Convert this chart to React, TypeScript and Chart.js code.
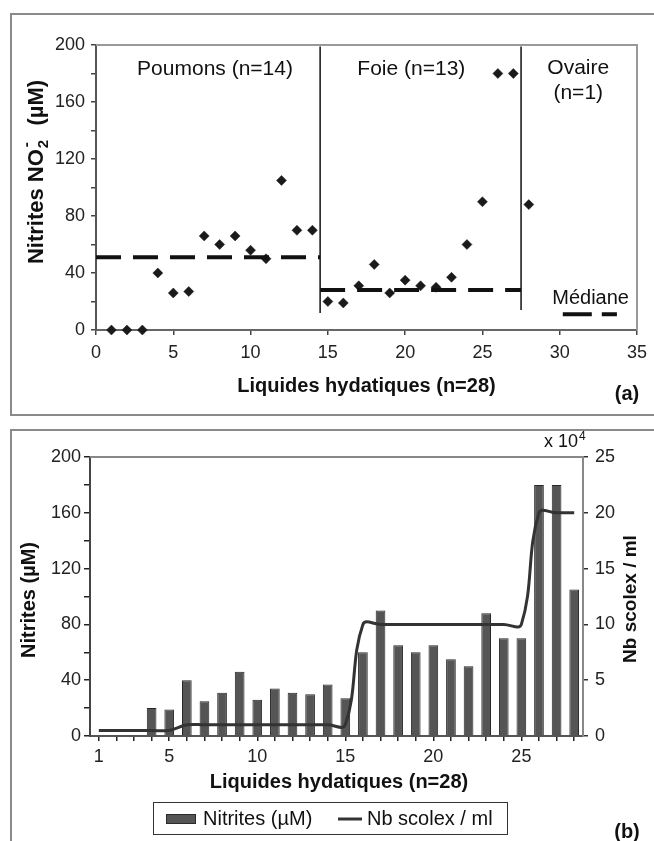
import React, { useEffect, useRef } from 'react';
import { Chart, registerables } from 'chart.js';

Chart.register(...registerables);

const FONT = "'Liberation Sans', Arial, Helvetica, sans-serif";

// ---------- Panel (a) data ----------
const specimenA = [1, 2, 3, 4, 5, 6, 7, 8, 9, 10, 11, 12, 13, 14, 15, 16, 17, 18, 19, 20, 21, 22, 23, 24, 25, 26, 27, 28];
const nitritesA = [0, 0, 0, 40, 26, 27, 66, 60, 66, 56, 50, 105, 70, 70, 20, 19, 31, 46, 26, 35, 31, 30, 37, 60, 90, 180, 180, 88];
const groupBounds = [0, 14.5, 27.5];
const medianPoumons = 51;
const medianFoie = 28;
const separatorLow = [12, 14];
const separatorHigh = 199;
const medianLegendX = [30.2, 33.7];
const medianLegendY = 11;

// ---------- Panel (b) data ----------
const specimenB = ['1', '2', '3', '4', '5', '6', '7', '8', '9', '10', '11', '12', '13', '14', '15', '16', '17', '18', '19', '20', '21', '22', '23', '24', '25', '26', '27', '28'];
const nitritesB = [0, 0, 0, 20, 19, 40, 25, 31, 46, 26, 34, 31, 30, 37, 27, 60, 90, 65, 60, 65, 55, 50, 88, 70, 70, 180, 180, 105];
const scolexB = [0.5, 0.5, 0.5, 0.5, 0.5, 1, 1, 1, 1, 1, 1, 1, 1, 1, 1, 10, 10, 10, 10, 10, 10, 10, 10, 10, 10, 20, 20, 20];
const xLabelsShownB = ['1', '5', '10', '15', '20', '25'];

function drawText(
  ctx: CanvasRenderingContext2D,
  s: string,
  x: number,
  y: number,
  font: string,
  align: CanvasTextAlign = 'center',
  baseline: CanvasTextBaseline = 'middle',
  rot = 0,
  color = '#111'
) {
  ctx.save();
  ctx.translate(x, y);
  if (rot) ctx.rotate(rot);
  ctx.font = font;
  ctx.fillStyle = color;
  ctx.textAlign = align;
  ctx.textBaseline = baseline;
  ctx.fillText(s, 0, 0);
  ctx.restore();
}

const annotA = {
  id: 'annotA',
  afterDraw(chart: any) {
    const ctx: CanvasRenderingContext2D = chart.ctx;
    const { left, right, top, bottom } = chart.chartArea;
    const xs = chart.scales.x;
    const ys = chart.scales.y;
    ctx.save();
    ctx.strokeStyle = '#999';
    ctx.lineWidth = 2;
    ctx.beginPath();
    ctx.moveTo(left, top);
    ctx.lineTo(right, top);
    ctx.lineTo(right, bottom);
    ctx.stroke();
    ctx.restore();

    const reg = `21px ${FONT}`;
    drawText(ctx, 'Poumons (n=14)', xs.getPixelForValue(7.7), ys.getPixelForValue(183), reg);
    drawText(ctx, 'Foie (n=13)', xs.getPixelForValue(20.4), ys.getPixelForValue(183), reg);
    drawText(ctx, 'Ovaire', xs.getPixelForValue(31.2), ys.getPixelForValue(184), reg);
    drawText(ctx, '(n=1)', xs.getPixelForValue(31.2), ys.getPixelForValue(166), reg);
    drawText(ctx, 'Médiane', xs.getPixelForValue(32), ys.getPixelForValue(22), `20px ${FONT}`);

    const bold = `bold 20px ${FONT}`;
    drawText(ctx, 'Liquides hydatiques (n=28)', (left + right) / 2, 386, bold);
    drawText(ctx, '(a)', 627, 394, bold);

    // Y title with subscript/superscript
    ctx.save();
    ctx.translate(35, 172);
    ctx.rotate(-Math.PI / 2);
    ctx.fillStyle = '#111';
    ctx.textBaseline = 'alphabetic';
    ctx.textAlign = 'left';
    const big = `bold 22px ${FONT}`;
    const small = `bold 15px ${FONT}`;
    ctx.font = big;
    const w1 = ctx.measureText('Nitrites NO').width;
    const w3 = ctx.measureText('  (µM)').width;
    ctx.font = small;
    const w2 = ctx.measureText('2').width + 3;
    let x = -(w1 + w2 + w3) / 2;
    const by = 8;
    ctx.font = big;
    ctx.fillText('Nitrites NO', x, by);
    x += w1;
    ctx.font = small;
    ctx.fillText('2', x + 1, by + 5);
    ctx.fillText('-', x + 2, by - 12);
    x += w2;
    ctx.font = big;
    ctx.fillText('  (µM)', x, by);
    ctx.restore();
  },
};

const annotB = {
  id: 'annotB',
  afterDraw(chart: any) {
    const ctx: CanvasRenderingContext2D = chart.ctx;
    const { left, right, top } = chart.chartArea;
    ctx.save();
    ctx.strokeStyle = '#888';
    ctx.lineWidth = 2;
    ctx.beginPath();
    ctx.moveTo(left, top);
    ctx.lineTo(right, top);
    ctx.stroke();
    ctx.restore();

    drawText(ctx, 'Nitrites (µM)', 29, 180, `bold 20px ${FONT}`, 'center', 'middle', -Math.PI / 2);
    drawText(ctx, 'Nb scolex / ml', 631, 179, `bold 19px ${FONT}`, 'center', 'middle', -Math.PI / 2);

    drawText(ctx, 'x 10', 578, 27, `18px ${FONT}`, 'right', 'alphabetic');
    drawText(ctx, '4', 579, 20, `12px ${FONT}`, 'left', 'alphabetic');

    drawText(ctx, 'Liquides hydatiques (n=28)', 339, 362, `bold 20px ${FONT}`);
    drawText(ctx, '(b)', 627, 412, `bold 20px ${FONT}`);

    // legend
    ctx.save();
    ctx.strokeStyle = '#333';
    ctx.lineWidth = 1;
    ctx.strokeRect(153.5, 382.5, 354, 32);
    ctx.fillStyle = '#555';
    ctx.fillRect(166, 394, 30, 10);
    ctx.strokeStyle = '#2a2a2a';
    ctx.strokeRect(166.5, 394.5, 29, 9);
    ctx.strokeStyle = '#333';
    ctx.lineWidth = 3;
    ctx.beginPath();
    ctx.moveTo(338, 399);
    ctx.lineTo(362, 399);
    ctx.stroke();
    ctx.restore();
    drawText(ctx, 'Nitrites (µM)', 203, 399, `20px ${FONT}`, 'left');
    drawText(ctx, 'Nb scolex / ml', 367, 399, `20px ${FONT}`, 'left');
  },
};

export default function App() {
  const refA = useRef<HTMLCanvasElement>(null);
  const refB = useRef<HTMLCanvasElement>(null);

  useEffect(() => {
    Chart.defaults.font.family = FONT;
    const tickFont = { family: FONT, size: 18 };

    const pointsA = specimenA.map((x, i) => ({ x, y: nitritesA[i] }));
    const lineDs = (data: any[], extra: any = {}) => ({
      data,
      showLine: true,
      pointRadius: 0,
      borderColor: '#111',
      borderWidth: 1.5,
      borderCapStyle: 'butt',
      clip: false,
      ...extra,
    });

    const chartA = new Chart(refA.current!, {
      type: 'scatter',
      data: {
        datasets: [
          lineDs(
            [
              { x: groupBounds[0], y: medianPoumons },
              { x: groupBounds[1], y: medianPoumons },
            ],
            { borderWidth: 4, borderDash: [25, 12] }
          ),
          lineDs(
            [
              { x: groupBounds[1], y: medianFoie },
              { x: groupBounds[2], y: medianFoie },
            ],
            { borderWidth: 4, borderDash: [25, 12] }
          ),
          lineDs([
            { x: groupBounds[1], y: separatorLow[0] },
            { x: groupBounds[1], y: separatorHigh },
          ]),
          lineDs([
            { x: groupBounds[2], y: separatorLow[1] },
            { x: groupBounds[2], y: separatorHigh },
          ]),
          lineDs(
            [
              { x: medianLegendX[0], y: medianLegendY },
              { x: medianLegendX[1], y: medianLegendY },
            ],
            { borderWidth: 4, borderDash: [29, 10] }
          ),
          {
            data: pointsA,
            pointStyle: 'rectRot',
            pointRadius: 5,
            backgroundColor: '#1a1a1a',
            borderColor: '#1a1a1a',
            borderWidth: 0.5,
            clip: false,
          } as any,
        ],
      },
      options: {
        responsive: false,
        animation: false,
        events: [],
        layout: { padding: { left: 0, right: 11, top: 45, bottom: 46 } },
        plugins: { legend: { display: false }, tooltip: { enabled: false } },
        scales: {
          x: {
            type: 'linear',
            min: 0,
            max: 35,
            ticks: { stepSize: 5, font: tickFont, color: '#222', padding: 7, maxRotation: 0 },
            grid: { drawOnChartArea: false, drawTicks: true, tickLength: 5, color: '#444', lineWidth: 1.5 },
            border: { display: true, color: '#666', width: 2 },
            afterFit: (s: any) => {
              s.height = 40;
            },
          },
          y: {
            min: 0,
            max: 200,
            ticks: {
              stepSize: 20,
              font: tickFont,
              color: '#222',
              padding: 6,
              callback: (v: any) => (v % 40 === 0 ? String(v) : ''),
            },
            grid: { drawOnChartArea: false, drawTicks: true, tickLength: 5, color: '#444', lineWidth: 1.5 },
            border: { display: true, color: '#555', width: 2 },
            afterFit: (s: any) => {
              s.width = 96;
            },
          },
        },
      } as any,
      plugins: [annotA],
    });

    const chartB = new Chart(refB.current!, {
      type: 'bar',
      data: {
        labels: specimenB,
        datasets: [
          {
            type: 'line',
            label: 'Nb scolex / ml',
            data: scolexB,
            yAxisID: 'y1',
            borderColor: '#333',
            borderWidth: 3,
            tension: 0.4,
            pointRadius: 0,
            order: 0,
          } as any,
          {
            type: 'bar',
            label: 'Nitrites (µM)',
            data: nitritesB,
            yAxisID: 'y',
            backgroundColor: '#555',
            borderColor: '#262626',
            borderWidth: 1,
            barPercentage: 0.55,
            categoryPercentage: 1,
            order: 1,
          } as any,
        ],
      },
      options: {
        responsive: false,
        animation: false,
        events: [],
        layout: { padding: { left: 0, right: 0, top: 37, bottom: 65 } },
        plugins: { legend: { display: false }, tooltip: { enabled: false } },
        scales: {
          x: {
            type: 'category',
            offset: true,
            ticks: {
              autoSkip: false,
              maxRotation: 0,
              font: tickFont,
              color: '#222',
              padding: 5,
              callback: (_v: any, i: number) => (xLabelsShownB.includes(specimenB[i]) ? specimenB[i] : ''),
            },
            grid: { offset: false, drawOnChartArea: false, drawTicks: true, tickLength: 5, color: '#222', lineWidth: 1.5 },
            border: { display: true, color: '#555', width: 2 },
            afterFit: (s: any) => {
              s.height = 40;
            },
          },
          y: {
            position: 'left',
            min: 0,
            max: 200,
            ticks: {
              stepSize: 20,
              font: tickFont,
              color: '#222',
              padding: 3,
              callback: (v: any) => (v % 40 === 0 ? String(v) : ''),
            },
            grid: { drawOnChartArea: false, drawTicks: true, tickLength: 6, color: '#222', lineWidth: 1.5 },
            border: { display: true, color: '#444', width: 2 },
            afterFit: (s: any) => {
              s.width = 90;
            },
          },
          y1: {
            position: 'right',
            min: 0,
            max: 25,
            ticks: { stepSize: 5, font: tickFont, color: '#222', padding: 7 },
            grid: { drawOnChartArea: false, drawTicks: true, tickLength: 5, color: '#333', lineWidth: 1.5 },
            border: { display: true, color: '#888', width: 2 },
            afterFit: (s: any) => {
              s.width = 71;
            },
          },
        },
      } as any,
      plugins: [annotB],
    });

    return () => {
      chartA.destroy();
      chartB.destroy();
    };
  }, []);

  const box: React.CSSProperties = {
    position: 'absolute',
    boxSizing: 'border-box',
    border: '2px solid #8a8a8a',
    background: '#fff',
  };

  return (
    <div style={{ position: 'absolute', left: 0, top: 0, width: 654, height: 841, overflow: 'hidden', background: '#fff' }}>
      <div style={{ ...box, left: 10, top: 13, width: 660, height: 403 }} />
      <div style={{ ...box, left: 10, top: 429, width: 660, height: 430 }} />
      <canvas
        ref={refA}
        width={654}
        height={416}
        style={{ position: 'absolute', left: 0, top: 0, width: 654, height: 416 }}
      />
      <canvas
        ref={refB}
        width={654}
        height={421}
        style={{ position: 'absolute', left: 0, top: 420, width: 654, height: 421 }}
      />
    </div>
  );
}
